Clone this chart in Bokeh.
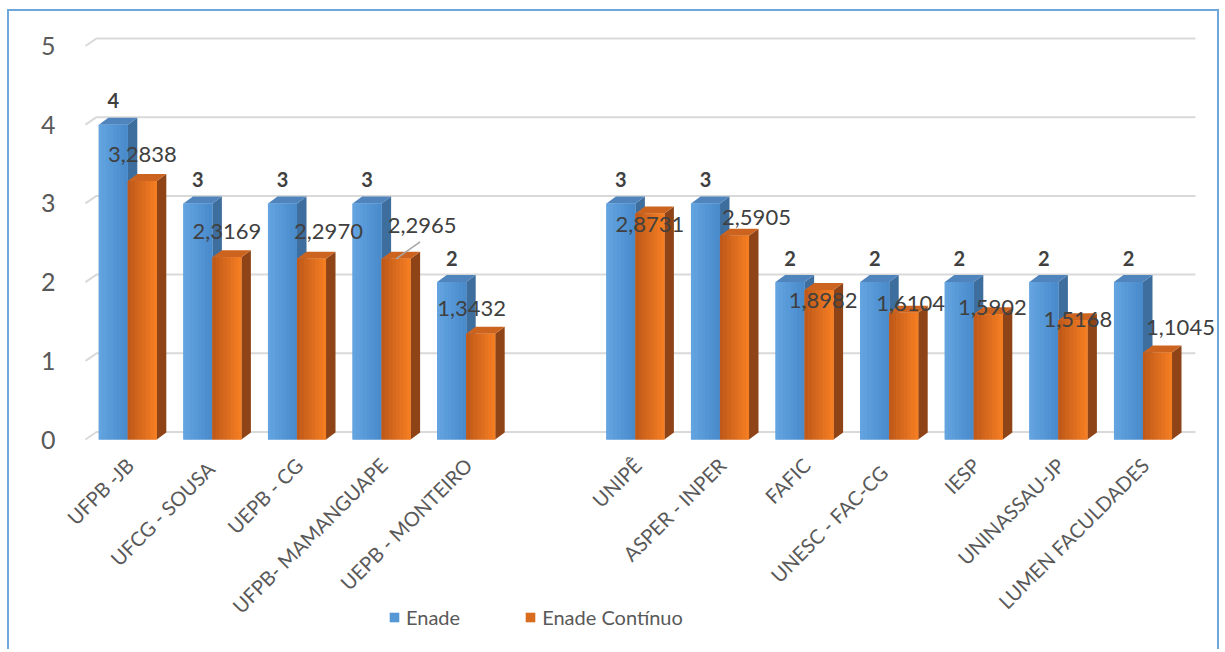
import math
from bokeh.plotting import figure
from bokeh.models import Range1d, FixedTicker, Legend, LegendItem, ColumnDataSource
from bokeh.core.properties import value
from bokeh.embed import file_html
from bokeh.resources import INLINE

# ---------------- data ----------------
categories = ["UFPB -JB", "UFCG -  SOUSA", "UEPB - CG", "UFPB- MAMANGUAPE", "UEPB - MONTEIRO",
              "UNIPÊ", "ASPER - INPER", "FAFIC", "UNESC  -  FAC-CG", "IESP", "UNINASSAU-JP",
              "LUMEN FACULDADES"]
enade = [4, 3, 3, 3, 2, 3, 3, 2, 2, 2, 2, 2]
enade_continuo = [3.2838, 2.3169, 2.2970, 2.2965, 1.3432, 2.8731, 2.5905, 1.8982,
                  1.6104, 1.5902, 1.5168, 1.1045]
y_ticks = [0, 1, 2, 3, 4, 5]
series_names = ["Enade", "Enade Contínuo"]

# ---------------- layout / style ----------------
FONT = "Lato"
PX_X = 84.6          # pixels per category slot
PX_Y = 78.7          # pixels per value unit
GAP_AFTER = 5        # an empty slot after the 5th institution
slots = [i if i < GAP_AFTER else i + 1 for i in range(len(categories))]

W, H = 1212, 640
LEFT, TOP = 53, 9
PLOT_LEFT = 76       # canvas column of the first slot's left edge
ZERO_Y = 428         # canvas row of the value 0 on the front plane
frame_w = W - LEFT
frame_h = H - TOP
x0 = -0.5 - (PLOT_LEFT - LEFT) / PX_X
x1 = x0 + frame_w / PX_X
y1 = (ZERO_Y - TOP) / PX_Y
y0 = y1 - frame_h / PX_Y

bar_w = 29.0 / PX_X
dep_x = 9.5 / PX_X
dep_y = 7.0 / PX_Y
g_start = -0.5
grid_dx = 11.0 / PX_X
grid_dy = 7.5 / PX_Y
grid_end = g_start + 1110.0 / PX_X

# label offsets (pixels): horizontal shift and height above bar top
cont_dx = [0, 0, 17, 26, -9, 0, 22, 4, 7, 4, 5, 23]
cont_up = [27, 26, 27, 33, 25, -11, 18, -10, 9, 7, 1, 25]

blue_l, blue_r = (0x62, 0xA3, 0xE0), (0x4A, 0x8B, 0xCC)
orng_l, orng_r = (0xC0, 0x5A, 0x1A), (0xF4, 0x7D, 0x22)
blue_side, blue_top = "#3E6E9E", "#4F84BC"
orng_side, orng_top = "#8E4416", "#CC6420"


def mix(c1, c2, t):
    return "#%02x%02x%02x" % tuple(int(round(a + (b - a) * t)) for a, b in zip(c1, c2))


p = figure(width=W, height=H, output_backend="svg", toolbar_location=None,
           x_range=Range1d(x0, x1), y_range=Range1d(y0, y1),
           min_border_left=LEFT, min_border_right=0, min_border_top=TOP,
           min_border_bottom=0)
p.styles = {"margin-left": "7px", "margin-top": "9px",
            "border-left": "2px solid #6FA6DC", "border-right": "2px solid #6FA6DC",
            "border-top": "2px solid #6FA6DC"}
p.background_fill_color = "white"
p.border_fill_color = "white"
p.outline_line_color = None
p.xgrid.visible = False
p.ygrid.visible = False
p.xaxis.visible = False

# gridlines on the back wall with the 3D floor corner
p.multi_line(xs=[[g_start, g_start + grid_dx, grid_end] for _ in y_ticks],
             ys=[[v, v + grid_dy, v + grid_dy] for v in y_ticks],
             line_color="#D9D9D9", line_width=2)


def draw_bars(xl_list, vals, cl, cr, side_c, top_c):
    xr_list = [xl + bar_w for xl in xl_list]
    p.patches(xs=[[xr, xr + dep_x, xr + dep_x, xr] for xr in xr_list],
              ys=[[0, dep_y, v + dep_y, v] for v in vals],
              fill_color=side_c, line_color=None)
    p.patches(xs=[[xl, xl + dep_x, xr + dep_x, xr] for xl, xr in zip(xl_list, xr_list)],
              ys=[[v, v + dep_y, v + dep_y, v] for v in vals],
              fill_color=top_c, line_color=None)
    r = p.vbar(x=[xl + bar_w / 2 for xl in xl_list], top=vals, bottom=0, width=bar_w,
               fill_color=mix(cl, cr, 0.5), line_color=None)
    n = 8
    for k in range(n):
        p.vbar(x=[xl + (k + 0.5) * bar_w / n for xl in xl_list], top=vals, bottom=0,
               width=bar_w / n * 1.04, fill_color=mix(cl, cr, k / (n - 1)), line_color=None)
    return r


blue_x = [s - bar_w for s in slots]
orng_x = [s for s in slots]
r_blue = draw_bars(blue_x, enade, blue_l, blue_r, blue_side, blue_top)
r_orng = draw_bars(orng_x, enade_continuo, orng_l, orng_r, orng_side, orng_top)

# data labels
src_e = ColumnDataSource(dict(x=[s - bar_w / 2 for s in slots], y=enade,
                              t=[str(v) for v in enade]))
p.text(x="x", y="y", text="t", source=src_e, y_offset=-24, text_align="center",
       text_baseline="middle", text_font=value(FONT), text_font_style="bold",
       text_font_size="20px", text_color="#404040")

src_c = ColumnDataSource(dict(x=[s + bar_w / 2 for s in slots], y=enade_continuo,
                              t=[("%.4f" % v).replace(".", ",") for v in enade_continuo],
                              dx=cont_dx, dy=[-u for u in cont_up]))
p.text(x="x", y="y", text="t", source=src_c, x_offset="dx", y_offset="dy",
       text_align="center", text_baseline="middle", text_font=value(FONT),
       text_font_size="22px", text_color="#404040")

# leader line for the displaced label
i = 3
p.segment(x0=[slots[i] + bar_w / 2], y0=[enade_continuo[i]],
          x1=[slots[i] + bar_w / 2 + 24 / PX_X], y1=[enade_continuo[i] + 17 / PX_Y],
          line_color="#A6A6A6", line_width=1.5)

# category labels (rotated 45 degrees, anchored at their right end under each group)
src_cat = ColumnDataSource(dict(x=slots, y=[0] * len(slots), t=categories))
p.text(x="x", y="y", text="t", source=src_cat, angle=math.pi / 4, x_offset=2, y_offset=22,
       text_align="right", text_baseline="middle", text_font=value(FONT),
       text_font_size="20px", text_color="#595959")

# value axis
p.yaxis.ticker = FixedTicker(ticks=y_ticks)
p.yaxis.axis_line_color = None
p.yaxis.major_tick_line_color = None
p.yaxis.minor_tick_line_color = None
p.yaxis.major_tick_out = 0
p.yaxis.major_label_standoff = 7
p.yaxis.major_label_text_font = FONT
p.yaxis.major_label_text_font_size = "25px"
p.yaxis.major_label_text_color = "#595959"

legend = Legend(items=[LegendItem(label=series_names[0], renderers=[r_blue]),
                       LegendItem(label=series_names[1], renderers=[r_orng])],
                orientation="horizontal", location=(PLOT_LEFT - LEFT + 303, 22),
                glyph_width=12, glyph_height=12, label_standoff=6, spacing=64,
                padding=0, margin=0, border_line_color=None, background_fill_alpha=0,
                label_text_font=FONT, label_text_font_size="20px",
                label_text_color="#595959")
p.add_layout(legend)

open("out.html", "w").write(file_html(p, INLINE))
